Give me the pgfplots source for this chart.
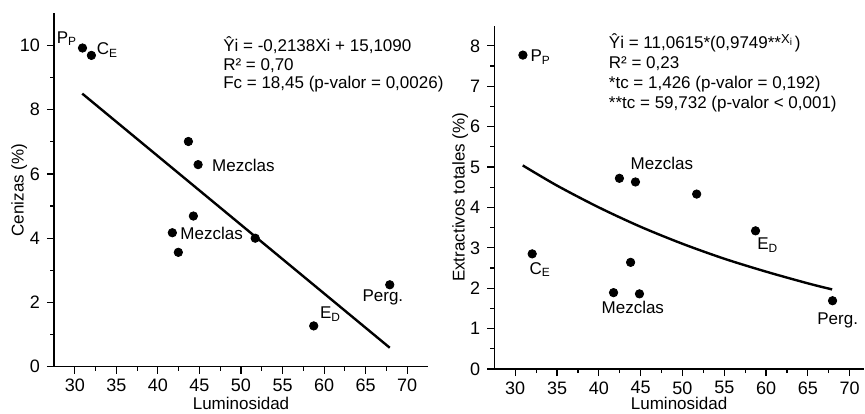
\documentclass[border=0pt]{standalone}
\usepackage{fontspec}
\setmainfont{Liberation Sans}
\usepackage{pgfplots}
\pgfplotsset{compat=1.18}
\newcommand\fs{\fontsize{8.5}{10}\selectfont}

\pgfplotsset{
  panel/.style={
    scale only axis,
    axis lines*=left,
    anchor=south west,
    xmin=27.5,
    xtick={30,35,...,70},
    minor x tick num=1,
    minor y tick num=1,
    tick align=outside,
    major tick length=3.5pt,
    minor tick length=2pt,
    axis line style={line width=0.6pt},
    every tick/.style={line width=0.6pt, black},
    tick label style={font=\fontsize{9}{10}\selectfont},
    xticklabel style={yshift=0.8pt},
    label style={font=\fs},
    /pgf/number format/assume math mode=true,
    xlabel={Luminosidad},
    clip=false,
  },
  dots/.style={only marks, mark=*, mark size=2.1pt, black},
  fit/.style={no marks, black, line width=1.2pt},
}
\tikzset{lab/.style={anchor=base west, inner sep=0pt, font=\fs}}

\begin{document}
\begin{tikzpicture}
\path[use as bounding box] (0pt,0pt) rectangle (432.5pt,206.5pt);

% Cenizas
\begin{axis}[panel, at={(27pt,23.15pt)}, width=187pt, height=176.7pt,
  xmax=72.5, ymin=0, ymax=11, ytick={0,2,...,10},
  ylabel={Cenizas (\%)},
  ylabel style={at={(axis description cs:-0.093,0.5)}, anchor=center},
  xlabel style={at={(axis description cs:0.5,0)}, anchor=base, yshift=-21.3pt}]
\addplot[dots] coordinates {
  (30.93,9.92) (32.0,9.69) (43.67,7.01) (44.84,6.29) (44.27,4.69)
  (41.74,4.17) (42.46,3.56) (51.71,4.0) (58.75,1.27) (67.9,2.55)};
\addplot[fit] coordinates {(30.9,8.50) (67.9,0.59)};
\node[lab] at (axis cs:27.8,10.07) {P\textsubscript{P}};
\node[lab] at (axis cs:32.6,9.71) {C\textsubscript{E}};
\node[lab] at (axis cs:46.49,6.07) {Mezclas};
\node[lab] at (axis cs:42.67,3.95) {Mezclas};
\node[lab] at (axis cs:59.47,1.49) {E\textsubscript{D}};
\node[lab] at (axis cs:64.58,2.02) {Perg.};
\node[lab] at (axis cs:47.82,9.80) {Ŷi = -0,2138Xi + 15,1090};
\node[lab] at (axis cs:47.82,9.23) {R² = 0,70};
\node[lab] at (axis cs:47.82,8.66) {Fc = 18,45 (p-valor = 0,0026)};
\end{axis}

% Extractivos totales
\begin{axis}[panel, at={(247.15pt,22pt)}, width=184.8pt, height=171.7pt,
  xmax=71.7, ymin=0, ymax=8.5, ytick={0,...,8},
  ylabel={Extractivos totales (\%)},
  ylabel style={at={(axis description cs:-0.092,0.5)}, anchor=center},
  xlabel style={at={(axis description cs:0.5,0)}, anchor=base, yshift=-20.4pt}]
\addplot[dots] coordinates {
  (30.92,7.77) (42.46,4.72) (44.38,4.63) (51.7,4.33) (32.03,2.85)
  (43.8,2.64) (41.76,1.89) (44.86,1.86) (58.74,3.42) (67.95,1.69)};
\addplot[fit, smooth] coordinates {
  (30.9,5.04) (35,4.54) (40,4.00) (45,3.52) (50,3.10)
  (55,2.73) (60,2.41) (65,2.12) (67.9,1.97)};
\node[lab] at (axis cs:31.79,7.61) {P\textsubscript{P}};
\node[lab] at (axis cs:43.76,4.93) {Mezclas};
\node[lab] at (axis cs:31.67,2.35) {C\textsubscript{E}};
\node[lab] at (axis cs:40.29,1.38) {Mezclas};
\node[lab] at (axis cs:58.91,2.96) {E\textsubscript{D}};
\node[lab] at (axis cs:66.09,1.11) {Perg.};
\node[lab] at (axis cs:41.16,7.94) {Ŷi = 11,0615*(0,9749**\raisebox{0.55ex}{\fontsize{6.5}{7}\selectfont X\raisebox{-0.35ex}{\fontsize{5}{6}\selectfont i}}\,)};
\node[lab] at (axis cs:41.16,7.44) {R² = 0,23};
\node[lab] at (axis cs:41.16,6.95) {*tc = 1,426 (p-valor = 0,192)};
\node[lab] at (axis cs:41.16,6.45) {**tc = 59,732 (p-valor < 0,001)};
\end{axis}
\end{tikzpicture}
\end{document}
